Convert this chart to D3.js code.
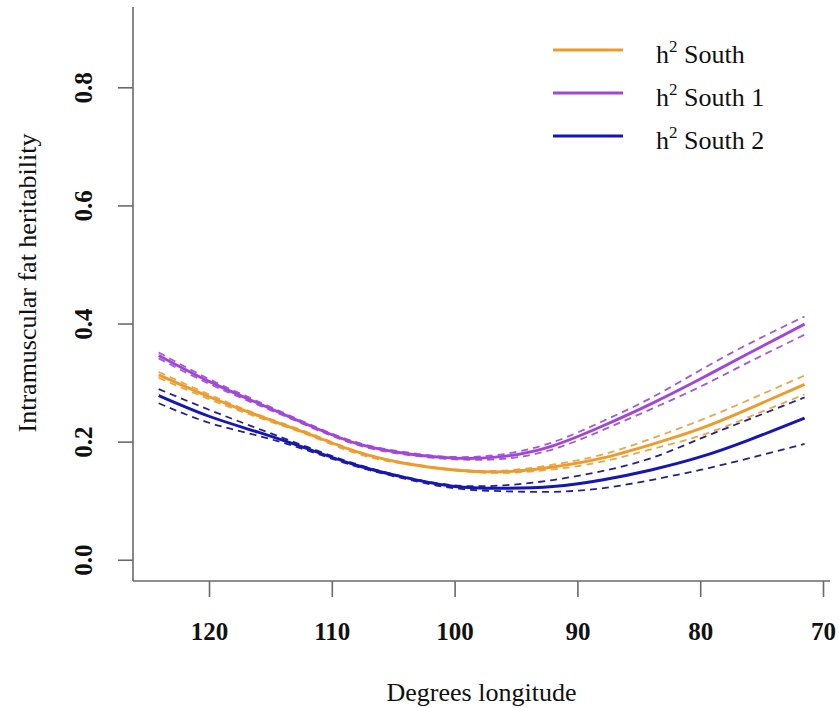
<!DOCTYPE html>
<html>
<head>
<meta charset="utf-8">
<script src="https://cdn.jsdelivr.net/npm/d3@7"></script>
<style>
  html, body { margin: 0; padding: 0; background: #fff; }
  svg { display: block; }
</style>
</head>
<body>
<svg id="chart" width="839" height="708"></svg>
<script>
// ---- data ----
const longitude = [124.1, 120, 116, 112, 108, 104, 100, 96, 92, 88, 84, 80, 76, 71.5];

const southMain  = [0.313, 0.276, 0.244, 0.214, 0.183, 0.163, 0.152, 0.149, 0.157, 0.172, 0.195, 0.222, 0.256, 0.297];
const southUpper = [0.318, 0.280, 0.246, 0.216, 0.184, 0.164, 0.153, 0.151, 0.161, 0.178, 0.205, 0.236, 0.271, 0.312];
const southLower = [0.308, 0.272, 0.241, 0.212, 0.180, 0.162, 0.151, 0.147, 0.153, 0.166, 0.187, 0.210, 0.242, 0.280];

const south1Main  = [0.346, 0.302, 0.265, 0.229, 0.197, 0.180, 0.172, 0.175, 0.193, 0.226, 0.264, 0.306, 0.350, 0.399];
const south1Upper = [0.351, 0.306, 0.268, 0.231, 0.199, 0.182, 0.174, 0.179, 0.199, 0.234, 0.274, 0.321, 0.366, 0.412];
const south1Lower = [0.341, 0.298, 0.262, 0.227, 0.195, 0.178, 0.170, 0.171, 0.187, 0.219, 0.255, 0.293, 0.335, 0.381];

const south2Main  = [0.278, 0.243, 0.216, 0.188, 0.160, 0.139, 0.124, 0.121, 0.124, 0.135, 0.152, 0.174, 0.203, 0.240];
const south2Upper = [0.289, 0.254, 0.222, 0.191, 0.162, 0.140, 0.126, 0.126, 0.135, 0.150, 0.172, 0.205, 0.238, 0.275];
const south2Lower = [0.265, 0.232, 0.210, 0.185, 0.158, 0.137, 0.121, 0.116, 0.115, 0.121, 0.135, 0.152, 0.172, 0.196];

const xTicks = [120, 110, 100, 90, 80, 70];
const yTicks = [0.0, 0.2, 0.4, 0.6, 0.8];
const seriesNames = ["South", "South 1", "South 2"];
const xTitle = "Degrees longitude";
const yTitle = "Intramuscular fat heritability";

(function () {
// ---- layout ----
const svg = d3.select("#chart");
const pLeft = 133, pRight = 830, pTop = 7, pBottom = 581;
const x = d3.scaleLinear().domain([126.19, 69.43]).range([pLeft, pRight]);
const y = d3.scaleLinear().domain([-0.036, 0.936]).range([pBottom, pTop]);

const serif = "'Liberation Serif', 'Times New Roman', serif";
const axisColor = "#6a6a6a";

// axes (L-shaped frame)
svg.append("line").attr("x1", pLeft).attr("x2", pLeft).attr("y1", pTop).attr("y2", pBottom)
  .attr("stroke", axisColor).attr("stroke-width", 1.6);
svg.append("line").attr("x1", pLeft).attr("x2", pRight).attr("y1", pBottom).attr("y2", pBottom)
  .attr("stroke", axisColor).attr("stroke-width", 1.6);

// x ticks
const xAxis = d3.axisBottom(x).tickValues(xTicks).tickSize(16).tickPadding(25).tickFormat(d3.format("d"));
const gx = svg.append("g").attr("transform", `translate(0,${pBottom})`).call(xAxis);
gx.select(".domain").remove();
gx.selectAll(".tick line").attr("stroke", axisColor).attr("stroke-width", 1.6);
gx.selectAll(".tick text").attr("fill", "#111").style("font-family", serif)
  .style("font-size", "25px").style("font-weight", "bold");

// y ticks
const yAxis = d3.axisLeft(y).tickValues(yTicks).tickSize(15).tickFormat(d3.format(".1f"));
const gy = svg.append("g").attr("transform", `translate(${pLeft},0)`).call(yAxis);
gy.select(".domain").remove();
gy.selectAll(".tick line").attr("stroke", axisColor).attr("stroke-width", 1.6);
gy.selectAll(".tick text")
  .attr("x", 0).attr("dy", null)
  .attr("transform", "translate(-50,0) rotate(-90)")
  .attr("text-anchor", "middle").attr("dominant-baseline", "central")
  .attr("fill", "#111").style("font-family", serif)
  .style("font-size", "25px").style("font-weight", "bold");

// axis titles
svg.append("text").attr("x", (pLeft + pRight) / 2).attr("y", 692)
  .attr("text-anchor", "middle").attr("dominant-baseline", "central")
  .style("font-family", serif).style("font-size", "26px").attr("fill", "#111")
  .text(xTitle);
svg.append("text").attr("transform", `translate(27,283) rotate(-90)`)
  .attr("text-anchor", "middle").attr("dominant-baseline", "central")
  .style("font-family", serif).style("font-size", "26px").attr("fill", "#111")
  .text(yTitle);

// ---- series ----
const series = [
  { name: seriesNames[0], main: southMain,  upper: southUpper,  lower: southLower,
    color: "#F09A2A", dash: "#E8A84E" },
  { name: seriesNames[1], main: south1Main, upper: south1Upper, lower: south1Lower,
    color: "#A245DA", dash: "#A35AD6" },
  { name: seriesNames[2], main: south2Main, upper: south2Upper, lower: south2Lower,
    color: "#1515B8", dash: "#23238F" }
];

const line = d3.line().x(d => x(d[0])).y(d => y(d[1])).curve(d3.curveNatural);
const pts = arr => longitude.map((lon, i) => [lon, arr[i]]);

series.forEach(s => {
  [s.upper, s.lower].forEach(b => {
    svg.append("path").attr("d", line(pts(b))).attr("fill", "none")
      .attr("stroke", s.dash).attr("stroke-width", 1.8)
      .attr("stroke-dasharray", "7,5");
  });
});
series.forEach(s => {
  svg.append("path").attr("d", line(pts(s.main))).attr("fill", "none")
    .attr("stroke", s.color).attr("stroke-width", 2.9);
});

// ---- legend ----
const legY = [50, 93, 136];
series.forEach((s, i) => {
  svg.append("line").attr("x1", 553).attr("x2", 623).attr("y1", legY[i]).attr("y2", legY[i])
    .attr("stroke", s.color).attr("stroke-width", 2.8);
  const t = svg.append("text").attr("x", 656).attr("y", legY[i] + 13)
    .style("font-family", serif).style("font-size", "26px").attr("fill", "#111");
  t.append("tspan").text("h");
  t.append("tspan").attr("dy", -11).style("font-size", "17px").text("2");
  t.append("tspan").attr("dy", 11).text(" " + s.name);
});
})();
</script>
</body>
</html>
